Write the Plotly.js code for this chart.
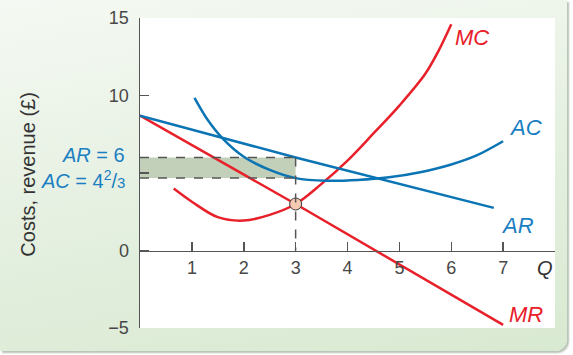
<!DOCTYPE html>
<html>
<head>
<meta charset="utf-8">
<script src="https://cdn.plot.ly/plotly-3.0.1.min.js"></script>
<style>
  html, body { margin: 0; padding: 0; width: 573px; height: 355px; overflow: hidden; background: #ffffff; }
  #panel { position: absolute; left: 0; top: 0; width: 567px; height: 351px;
           background: linear-gradient(170deg, #f5f9f3 0%, #e7f1e3 45%, #d8e9d1 100%);
           border-bottom-right-radius: 12px; box-shadow: 2px 2px 2px #b9c2b6; }
  #chart { position: absolute; left: 0; top: 0; width: 573px; height: 355px; }
</style>
</head>
<body>
<div id="panel"></div>
<div id="chart"></div>
<script>
// ---- data ----
const mcQ    = [0.65, 1.0, 1.5, 2.0, 2.5, 3.0, 3.5, 4.0, 4.5, 5.0, 5.5, 5.75, 6.0];
const mcCost = [4.0, 3.15, 2.15, 1.93, 2.3, 3.0, 4.3, 5.8, 7.55, 9.35, 11.4, 12.85, 14.6];

const acQ    = [1.05, 1.3, 1.6, 2.0, 2.5, 3.0, 3.6, 4.2, 4.8, 5.4, 6.0, 6.5, 7.0];
const acCost = [9.85, 8.45, 7.2, 6.05, 5.2, 4.67, 4.5, 4.55, 4.72, 5.05, 5.55, 6.15, 7.05];

const arQ    = [0, 3, 6.82];
const arRev  = [8.7, 6.0, 2.75];

const mrQ    = [0, 3, 7];
const mrRev  = [8.7, 3.0, -4.8];

const eqQ  = 3;
const eqAR = 6;
const eqAC = 4.67;
const eqMC = 3;

const xTickVals = [1, 2, 3, 4, 5, 6, 7];
const yTickVals = [-5, 0, 5, 10, 15];
const yTickText = ['\u22125', '0', ' ', '10', '15'];

const curveLabels = ['<i>MC</i>', '<i>AC</i>', '<i>AR</i>', '<i>MR</i>'];
const curveLabelQ = [6.4, 7.44, 7.27, 7.44];
const curveLabelV = [13.74, 7.94, 1.61, -4.13];

// ---- styling ----
const RED = '#e8202a';
const BLUE = '#0a74b4';
const TEXTBLUE = '#1a7fc2';
const FONT = 'Liberation Sans, Arial, sans-serif';
const AXIS = '#555555';

const traces = [
  { x: mcQ, y: mcCost, mode: 'lines', line: { color: RED, width: 2.5, shape: 'spline', smoothing: 1 }, hoverinfo: 'skip' },
  { x: mrQ, y: mrRev, mode: 'lines', line: { color: RED, width: 2.5 }, hoverinfo: 'skip' },
  { x: acQ, y: acCost, mode: 'lines', line: { color: BLUE, width: 2.5, shape: 'spline', smoothing: 0.8 }, hoverinfo: 'skip' },
  { x: arQ, y: arRev, mode: 'lines', line: { color: BLUE, width: 2.5 }, hoverinfo: 'skip' },
  { x: [eqQ], y: [eqMC], mode: 'markers', marker: { size: 12, color: '#f6c9b2', line: { color: '#3a3a3a', width: 1 } }, hoverinfo: 'skip' }
];

const dash = { color: '#555555', width: 1.5, dash: 'dash' };
const shapes = [
  { type: 'rect', xref: 'x', yref: 'y', x0: 0, x1: eqQ, y0: eqAC, y1: eqAR, fillcolor: 'rgb(194,208,186)', line: { width: 0 }, layer: 'below' },
  { type: 'line', xref: 'x', yref: 'y', x0: 0, x1: eqQ, y0: eqAR, y1: eqAR, line: dash },
  { type: 'line', xref: 'x', yref: 'y', x0: 0, x1: eqQ, y0: eqAC, y1: eqAC, line: dash },
  { type: 'line', xref: 'x', yref: 'y', x0: eqQ, x1: eqQ, y0: eqAR, y1: 0, line: dash }
];

const annotations = curveLabels.map((t, i) => ({
  x: curveLabelQ[i], y: curveLabelV[i], xref: 'x', yref: 'y', text: t, showarrow: false,
  xanchor: 'center', yanchor: 'middle',
  font: { family: FONT, size: 22, color: i === 0 || i === 3 ? RED : TEXTBLUE }
}));
annotations.push(
  { x: 7.81, y: -1.16, xref: 'x', yref: 'y', text: '<i>Q</i>', showarrow: false, xanchor: 'center', yanchor: 'middle',
    font: { family: FONT, size: 20, color: '#333333' } },
  { x: -0.031, y: eqAR + 0.17, xref: 'paper', yref: 'y', text: '<i>AR</i> = 6', showarrow: false, xanchor: 'right', yanchor: 'middle',
    font: { family: FONT, size: 20, color: TEXTBLUE } },
  { x: -0.031, y: eqAC - 0.12, xref: 'paper', yref: 'y', text: '<i>AC</i> = 4<sup>2</sup>/<span style="font-size:15px">3</span>', showarrow: false, xanchor: 'right', yanchor: 'middle',
    font: { family: FONT, size: 20, color: TEXTBLUE } },
  { x: -0.272, y: 4.9, xref: 'paper', yref: 'y', text: 'Costs, revenue (£)', textangle: -90, showarrow: false, xanchor: 'center', yanchor: 'middle',
    font: { family: FONT, size: 20, color: '#333333' } }
);

const layout = {
  width: 573, height: 355,
  margin: { l: 140, r: 18, t: 18, b: 27, pad: 0 },
  paper_bgcolor: 'rgba(0,0,0,0)',
  plot_bgcolor: '#ffffff',
  showlegend: false,
  font: { family: FONT, color: '#444444' },
  xaxis: {
    range: [0, 8], anchor: 'free', position: 0.25,
    showline: true, linecolor: AXIS, linewidth: 1.5,
    ticks: 'inside', ticklen: 9, tickwidth: 1.5, tickcolor: AXIS,
    tickvals: xTickVals, showgrid: false, zeroline: false,
    tickfont: { family: FONT, size: 18, color: '#484848' }, fixedrange: true
  },
  yaxis: {
    range: [-5, 15],
    showline: true, linecolor: AXIS, linewidth: 1.5,
    ticks: 'inside', ticklen: 9, tickwidth: 1.5, tickcolor: AXIS,
    tickvals: yTickVals, ticktext: yTickText, showgrid: false, zeroline: false,
    ticklabelstandoff: 6,
    tickfont: { family: FONT, size: 18, color: '#484848' }, fixedrange: true
  },
  shapes: shapes,
  annotations: annotations
};

Plotly.newPlot('chart', traces, layout, { staticPlot: true, displayModeBar: false });
</script>
</body>
</html>
